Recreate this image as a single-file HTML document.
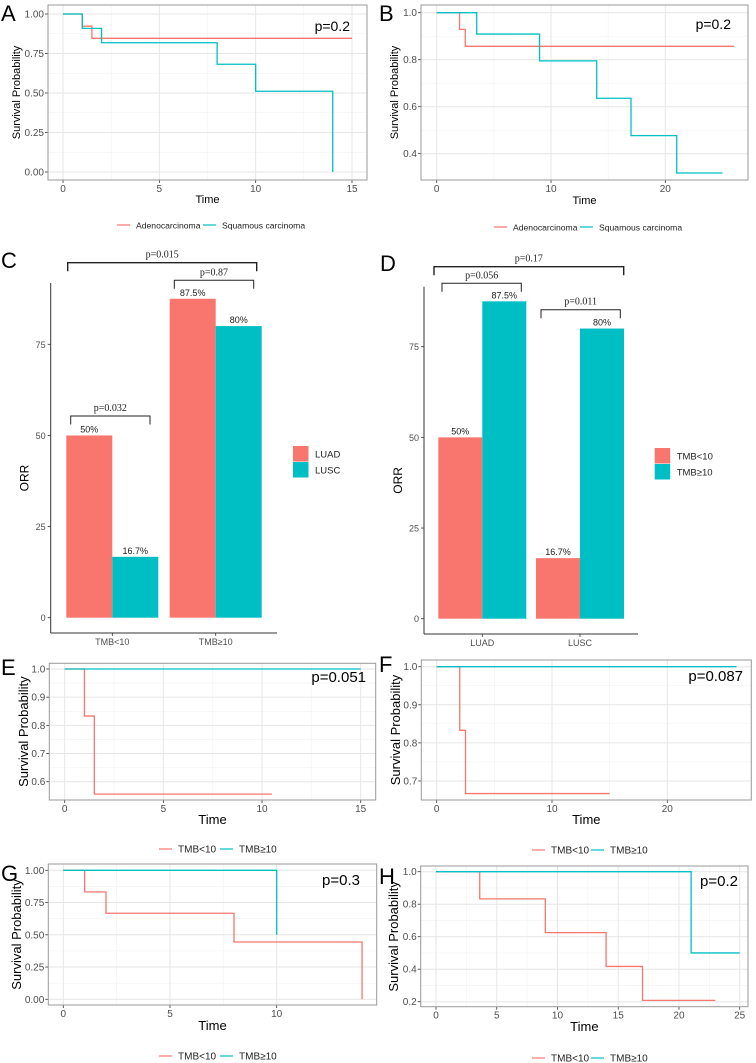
<!DOCTYPE html>
<html><head><meta charset="utf-8"><style>
html,body{margin:0;padding:0;background:#fff;}
svg{display:block;font-family:"Liberation Sans",Arial,sans-serif;}
</style></head><body>
<svg id="fig" width="756" height="1063" viewBox="0 0 756 1063" xmlns="http://www.w3.org/2000/svg"></svg>
<script>
// ===== Panel data =====
// A
const aRedT=[0,1,1.5,15], aRedS=[1,0.923,0.846,0.846];
const aTealT=[0,1,2,8,10,14], aTealS=[1,0.909,0.818,0.682,0.511,0];
const aXTicks=[0,5,10,15], aYTicks=[0,0.25,0.5,0.75,1], aYLabels=["0.00","0.25","0.50","0.75","1.00"];
// B
const bRedT=[0,2,2.5,26], bRedS=[1,0.929,0.857,0.857];
const bTealT=[0,3.5,9,14,17,21,25], bTealS=[1,0.909,0.795,0.636,0.477,0.318,0.318];
const bXTicks=[0,10,20], bYTicks=[0.4,0.6,0.8,1], bYLabels=["0.4","0.6","0.8","1.0"];
// C
const cCats=["TMB<10","TMB≥10"];
const cLUAD=[50,87.5], cLUSC=[16.7,80];
const cLUADLabels=["50%","87.5%"], cLUSCLabels=["16.7%","80%"];
const barYTicks=[0,25,50,75];
// D
const dCats=["LUAD","LUSC"];
const dLow=[50,16.7], dHigh=[87.5,80];
const dLowLabels=["50%","16.7%"], dHighLabels=["87.5%","80%"];
// E
const eRedT=[0,1,1.5,10.5], eRedS=[1,0.833,0.556,0.556];
const eTealT=[0,15], eTealS=[1,1];
const eXTicks=[0,5,10,15], eYTicks=[0.6,0.7,0.8,0.9,1], eYLabels=["0.6","0.7","0.8","0.9","1.0"];
// F
const fRedT=[0,2,2.5,15], fRedS=[1,0.833,0.667,0.667];
const fTealT=[0,26], fTealS=[1,1];
const fXTicks=[0,10,20], fYTicks=[0.7,0.8,0.9,1], fYLabels=["0.7","0.8","0.9","1.0"];
// G
const gRedT=[0,1,2,8,14], gRedS=[1,0.833,0.667,0.444,0];
const gTealT=[0,10], gTealS=[1,0.5];
const gXTicks=[0,5,10], gYTicks=[0,0.25,0.5,0.75,1], gYLabels=["0.00","0.25","0.50","0.75","1.00"];
// H
const hRedT=[0,3.6,9,14,17,23], hRedS=[1,0.833,0.625,0.417,0.208,0.208];
const hTealT=[0,21,25], hTealS=[1,0.5,0.5];
const hXTicks=[0,5,10,15,20,25], hYTicks=[0.2,0.4,0.6,0.8,1], hYLabels=["0.2","0.4","0.6","0.8","1.0"];

const RED="#F8766D", TEAL="#00BFC4";
const NS="http://www.w3.org/2000/svg";
const fig=document.getElementById('fig');
function mk(tag,attrs,parent,txt){const e=document.createElementNS(NS,tag);for(const k in attrs)e.setAttribute(k,attrs[k]);if(txt!==undefined)e.textContent=txt;(parent||fig).appendChild(e);return e;}

function km(o){
  const g=mk('g',{});
  
  
  const sx=v=>o.x0+(v-o.t0)*(o.x1-o.x0)/(o.t1-o.t0);
  const sy=v=>o.y0+(v-o.v0)*(o.y1-o.y0)/(o.v1-o.v0);
  const bg=mk('rect',{x:o.bx0,y:o.by0,width:o.bx1-o.bx0,height:o.by1-o.by0,fill:'#fff'},g);
  
  
  for(let i=0;i<o.xt.length-1;i++){const m=(o.xt[i]+o.xt[i+1])/2;mk('line',{x1:sx(m),x2:sx(m),y1:o.by0,y2:o.by1,stroke:'#f2f2f2','stroke-width':0.6},g);}
  for(let i=0;i<o.yt.length-1;i++){const m=(o.yt[i]+o.yt[i+1])/2;mk('line',{x1:o.bx0,x2:o.bx1,y1:sy(m),y2:sy(m),stroke:'#f2f2f2','stroke-width':0.6},g);}
  o.xt.forEach(v=>{mk('line',{x1:sx(v),x2:sx(v),y1:o.by0,y2:o.by1,stroke:'#e6e6e6','stroke-width':1},g);
    mk('line',{x1:sx(v),x2:sx(v),y1:o.by1,y2:o.by1+3,stroke:'#333','stroke-width':0.8},g);
    const t=mk('text',{x:sx(v),y:o.by1+12,'text-anchor':'middle','font-size':10,fill:'#4d4d4d'},g,String(v));
    });
  o.yt.forEach((v,i)=>{mk('line',{x1:o.bx0,x2:o.bx1,y1:sy(v),y2:sy(v),stroke:'#e6e6e6','stroke-width':1},g);
    mk('line',{x1:o.bx0-3,x2:o.bx0,y1:sy(v),y2:sy(v),stroke:'#333','stroke-width':0.8},g);
    const t=mk('text',{x:o.bx0-4,y:sy(v)+3.5,'text-anchor':'end','font-size':10,fill:'#4d4d4d'},g,o.yl[i]);
    });
  [[o.rt,o.rs,RED],[o.tt,o.ts,TEAL]].forEach(([T,S,c],k)=>{
    let d='M'+sx(T[0])+','+sy(S[0]);
    for(let i=1;i<T.length;i++){d+=' L'+sx(T[i])+','+sy(S[i-1])+' L'+sx(T[i])+','+sy(S[i]);}
    const p=mk('path',{d:d,fill:'none',stroke:c,'stroke-width':1.3},g);
    
  });
  const br=mk('rect',{x:o.bx0,y:o.by0,width:o.bx1-o.bx0,height:o.by1-o.by0,fill:'none',stroke:'#999','stroke-width':1},g);
  
  const xt=mk('text',{x:(o.bx0+o.bx1)/2,y:o.timeY,'text-anchor':'middle','font-size':o.tfs,fill:'#000'},g,'Time');
  
  const yx=o.ytx, yy=(o.by0+o.by1)/2;
  const yt=mk('text',{x:yx,y:yy,'text-anchor':'middle','font-size':o.tfs,fill:'#000',transform:`rotate(-90 ${yx} ${yy})`},g,'Survival Probability');
  
  const pv=mk('text',{x:o.px,y:o.py,'text-anchor':'end','font-size':o.pfs,fill:'#000'},g,o.p);
  
  const lb=mk('text',{x:o.lx,y:o.ly,'font-size':22,fill:'#000'},g,o.letter);
  
  o.leg.forEach((L,i)=>{
    const lg=mk('g',{},g);
    
    mk('line',{x1:L[0],x2:L[0]+13,y1:o.legY,y2:o.legY,stroke:i?TEAL:RED,'stroke-width':1.2},lg);
    mk('text',{x:L[0]+19,y:o.legY+3.5,'font-size':o.lfs,fill:'#222'},lg,L[1]);
  });
}

km({name:'km-plot-a',letter:'A',lx:1,ly:21,bx0:48,bx1:367,by0:5,by1:180,x0:63,x1:352,t0:0,t1:15,y0:172,y1:14,v0:0,v1:1,
  xt:aXTicks,yt:aYTicks,yl:aYLabels,rt:aRedT,rs:aRedS,tt:aTealT,ts:aTealS,curveNames:['curve-adenocarcinoma','curve-squamous'],
  timeY:203,ytx:20,tfs:11,p:'p=0.2',px:350,py:31,pfs:14,legY:225,lfs:8.6,leg:[[117,'Adenocarcinoma'],[203,'Squamous carcinoma']]});
km({name:'km-plot-b',letter:'B',lx:379,ly:21,bx0:421,bx1:748,by0:5,by1:180,x0:436.7,x1:665.3,t0:0,t1:20,y0:153.7,y1:12.7,v0:0.4,v1:1,
  xt:bXTicks,yt:bYTicks,yl:bYLabels,rt:bRedT,rs:bRedS,tt:bTealT,ts:bTealS,curveNames:['curve-adenocarcinoma','curve-squamous'],
  timeY:204,ytx:398,tfs:11,p:'p=0.2',px:731,py:29,pfs:14,legY:227,lfs:8.6,leg:[[494,'Adenocarcinoma'],[580,'Squamous carcinoma']]});
km({name:'km-plot-e',letter:'E',lx:1,ly:675,bx0:49.3,bx1:375.7,by0:663.3,by1:800,x0:64.7,x1:360.7,t0:0,t1:15,y0:781.7,y1:669,v0:0.6,v1:1,
  xt:eXTicks,yt:eYTicks,yl:eYLabels,rt:eRedT,rs:eRedS,tt:eTealT,ts:eTealS,curveNames:['curve-tmb-low','curve-tmb-high'],
  timeY:824,ytx:28,tfs:13,p:'p=0.051',px:366,py:682,pfs:15,legY:849,lfs:10,leg:[[159,'TMB<10'],[220,'TMB≥10']]});
km({name:'km-plot-f',letter:'F',lx:379,ly:672,bx0:421.3,bx1:751.3,by0:660,by1:800,x0:436.7,x1:667.3,t0:0,t1:20,y0:781,y1:666.7,v0:0.7,v1:1,
  xt:fXTicks,yt:fYTicks,yl:fYLabels,rt:fRedT,rs:fRedS,tt:fTealT,ts:fTealS,curveNames:['curve-tmb-low','curve-tmb-high'],
  timeY:824,ytx:400,tfs:13,p:'p=0.087',px:743,py:681,pfs:15,legY:850,lfs:10,leg:[[532,'TMB<10'],[591,'TMB≥10']]});
km({name:'km-plot-g',letter:'G',lx:1,ly:881,bx0:48.3,bx1:376.7,by0:864,by1:1005,x0:63.3,x1:276.7,t0:0,t1:10,y0:999.3,y1:870.3,v0:0,v1:1,
  xt:gXTicks,yt:gYTicks,yl:gYLabels,rt:gRedT,rs:gRedS,tt:gTealT,ts:gTealS,curveNames:['curve-tmb-low','curve-tmb-high'],
  timeY:1030,ytx:21,tfs:13,p:'p=0.3',px:360,py:885,pfs:15,legY:1056,lfs:10,leg:[[159,'TMB<10'],[220,'TMB≥10']]});
km({name:'km-plot-h',letter:'H',lx:379,ly:884,bx0:420.7,bx1:748,by0:866,by1:1006.7,x0:436,x1:739.7,t0:0,t1:25,y0:1001.7,y1:871.7,v0:0.2,v1:1,
  xt:hXTicks,yt:hYTicks,yl:hYLabels,rt:hRedT,rs:hRedS,tt:hTealT,ts:hTealS,curveNames:['curve-tmb-low','curve-tmb-high'],
  timeY:1031,ytx:398,tfs:13,p:'p=0.2',px:738,py:886,pfs:15,legY:1058,lfs:10,leg:[[532,'TMB<10'],[591,'TMB≥10']]});

function bars(o){
  const g=mk('g',{});
  
  
  const sy=v=>o.y0-v*o.k;
  mk('line',{x1:o.ax,x2:o.ax,y1:o.ay0,y2:o.ay1,stroke:'#333','stroke-width':1},g);
  mk('line',{x1:o.ax,x2:o.axr,y1:o.ay1,y2:o.ay1,stroke:'#333','stroke-width':1},g);
  barYTicks.forEach(v=>{mk('line',{x1:o.ax-3,x2:o.ax,y1:sy(v),y2:sy(v),stroke:'#333','stroke-width':0.8},g);
    const t=mk('text',{x:o.ax-5,y:sy(v)+3.5,'text-anchor':'end','font-size':9,fill:'#4d4d4d'},g,String(v));
    });
  const yx=o.ax-22, yy=(o.ay0+o.ay1)/2;
  const yt=mk('text',{x:yx,y:yy+20,'text-anchor':'middle','font-size':12,fill:'#000',transform:`rotate(-90 ${yx} ${yy+20})`},g,'ORR');
  
  const bw=o.bw;
  o.cats.forEach((c,i)=>{
    const cx=o.c0+i*o.step;
    mk('line',{x1:cx,x2:cx,y1:o.ay1,y2:o.ay1+3,stroke:'#333','stroke-width':0.8},g);
    const t=mk('text',{x:cx,y:o.ay1+12,'text-anchor':'middle','font-size':9,fill:'#4d4d4d'},g,c);
    
    [[o.s1,o.l1,RED],[o.s2,o.l2,TEAL]].forEach(([S,L,col],j)=>{
      const x=cx-bw+j*bw;
      const r=mk('rect',{x:x,y:sy(S[i]),width:bw,height:sy(0)-sy(S[i]),fill:col},g);
      
      
      const lt=mk('text',{x:x+bw/2,y:sy(S[i])-3,'text-anchor':'middle','font-size':9,fill:'#222'},g,L[i]);
      
    });
  });
  o.brackets.forEach(b=>{
    const bg=mk('g',{},g);
    
    mk('path',{d:`M${b[0]},${b[2]+8.5} L${b[0]},${b[2]} L${b[1]},${b[2]} L${b[1]},${b[2]+8.5}`,fill:'none',stroke:'#222','stroke-width':b[4]||1},bg);
    mk('text',{x:(b[0]+b[1])/2,y:b[2]-5,'text-anchor':'middle','font-size':10,'font-family':'Liberation Serif,serif',fill:'#222'},bg,b[3]);
  });
  o.leg.forEach((L,i)=>{
    const lg=mk('g',{},g);
    
    mk('rect',{x:o.lgx,y:o.lgy+i*16,width:15.5,height:15.5,fill:i?TEAL:RED},lg);
    mk('text',{x:o.lgx+22,y:o.lgy+i*16+11.5,'font-size':9.5,fill:'#222'},lg,L);
  });
  const lb=mk('text',{x:o.lx,y:o.ly,'font-size':22,fill:'#000'},g,o.letter);
  
}
bars({name:'bar-chart-c',letter:'C',lx:1,ly:268,ax:50.7,axr:277,ay0:283,ay1:633,y0:617.7,k:3.645,cats:cCats,c0:112.3,step:103.4,bw:46,
  s1:cLUAD,s2:cLUSC,l1:cLUADLabels,l2:cLUSCLabels,sn:['luad','lusc'],
  brackets:[[70.7,150,416,'p=0.032'],[174.3,253.7,280.3,'p=0.87'],[67.7,256.7,262.7,'p=0.015',1.4]],
  lgx:293,lgy:446,leg:['LUAD','LUSC']});
bars({name:'bar-chart-d',letter:'D',lx:380,ly:271,ax:424,axr:638,ay0:286.7,ay1:634,y0:618.7,k:3.627,cats:dCats,c0:482.3,step:97.7,bw:44,
  s1:dLow,s2:dHigh,l1:dLowLabels,l2:dHighLabels,sn:['tmb-low','tmb-high'],
  brackets:[[434,623.7,266.7,'p=0.17',1.4],[442,521.3,283.3,'p=0.056'],[541,620.3,309.7,'p=0.011']],
  lgx:654.7,lgy:448,leg:['TMB<10','TMB≥10']});
</script>
</body></html>
